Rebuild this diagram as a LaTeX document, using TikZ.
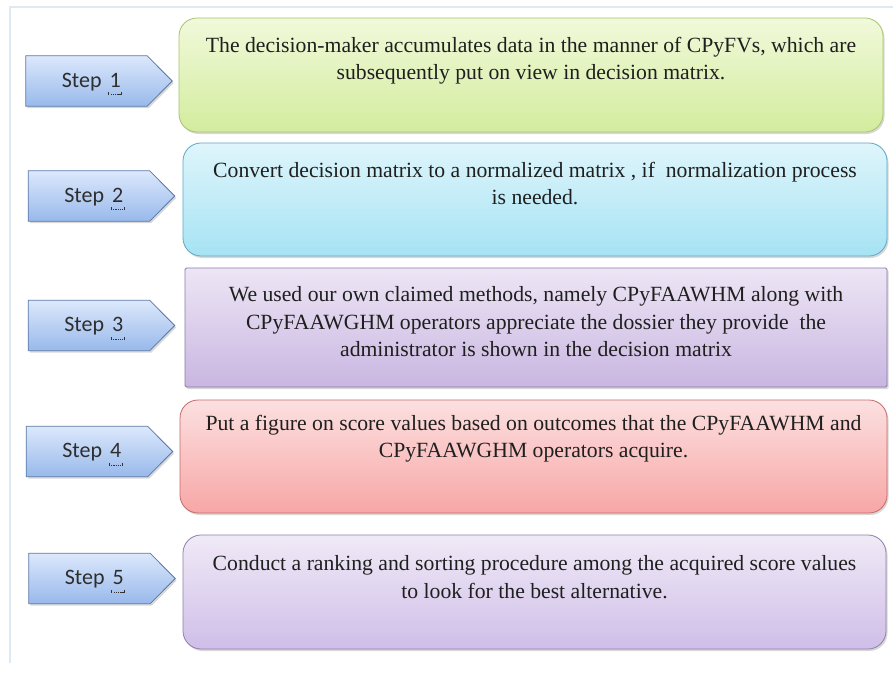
\documentclass[tikz,border=0pt]{standalone}
\usepackage{fontspec}
\setmainfont{Liberation Serif}
\newfontfamily\stepfont{Carlito}
\usetikzlibrary{shadows}
\definecolor{framecol}{HTML}{DDE9F3}
\definecolor{gT}{HTML}{F1F9DA}\definecolor{gB}{HTML}{D3EC9E}\definecolor{gD}{HTML}{A6C46E}
\definecolor{cT}{HTML}{DFF5FB}\definecolor{cB}{HTML}{A6E3F4}\definecolor{cD}{HTML}{5EA8C6}
\definecolor{pT}{HTML}{EDE6F5}\definecolor{pB}{HTML}{C9B6E1}\definecolor{pD}{HTML}{8A7BA3}
\definecolor{rT}{HTML}{FCE0E0}\definecolor{rB}{HTML}{F8A6A6}\definecolor{rD}{HTML}{C46A6A}
\definecolor{qT}{HTML}{F0EAF7}\definecolor{qB}{HTML}{CFBEE8}\definecolor{qD}{HTML}{8E80A8}
\definecolor{sT}{HTML}{DCE8FC}\definecolor{sB}{HTML}{98B9EB}\definecolor{sD}{HTML}{5A78A6}
\newcommand\stepdig[1]{\setbox0\hbox{#1}\vtop{\offinterlineskip\copy0\kern5pt\moveleft1.5pt\hbox to\dimexpr\wd0+3pt\relax{\color{black!80}\vrule height 3pt width .8pt\leaders\hbox to 2.2pt{\hss\vrule height .8pt width 1.3pt\hss}\hfil\vrule height 3pt width .8pt}}}
\begin{document}
\begin{tikzpicture}[x=1pt,y=-1pt,
  box/.style={line width=0.8pt, rounded corners=18pt,
    drop shadow={shadow xshift=1.5pt, shadow yshift=-2pt, opacity=0.3}},
  txt/.style={anchor=north, align=center, inner sep=0pt, text=black!88,
    font=\fontsize{21.7}{27.5}\selectfont},
  stepbody/.style={minimum width=121pt, minimum height=50pt, inner sep=0pt},
  steplabel/.style={anchor=base, inner sep=0pt, font=\stepfont\fontsize{22}{24}\selectfont, text=black!82},
  stepshape/.style={draw=sD, line width=0.8pt, top color=sT, bottom color=sB,
    drop shadow={shadow xshift=1.5pt, shadow yshift=-2pt, opacity=0.3}}
]
\useasboundingbox (0,0) rectangle (893,673);
\fill[white] (0,0) rectangle (893,673);
\draw[framecol, line width=1.5pt] (10,663) -- (10,7) -- (893,7);

% boxes
\node[box, draw=gD, top color=gT, bottom color=gB, minimum width=704pt, minimum height=114pt] (b1) at (531,75) {};
\node[box, draw=cD, top color=cT, bottom color=cB, minimum width=704pt, minimum height=113pt] (b2) at (535,199.5) {};
\node[box, draw=pD, top color=pT, bottom color=pB, minimum width=702pt, minimum height=119pt, rounded corners=1.5pt] (b3) at (536,327.5) {};
\node[box, draw=rD, top color=rT, bottom color=rB, minimum width=707pt, minimum height=113pt] (b4) at (533.5,456.5) {};
\node[box, draw=qD, top color=qT, bottom color=qB, minimum width=703pt, minimum height=114pt] (b5) at (534.5,592) {};

\node[txt] (t1) at ([yshift=-19pt]b1.north) {The decision-maker accumulates data in the manner of CPyFVs, which are\\subsequently put on view in decision matrix.};
\node[txt] (t2) at ([yshift=-19pt]b2.north) {Convert decision matrix to a normalized matrix , if\ \ normalization process\\is needed.};
\node[txt] (t3) at ([yshift=-19pt]b3.north) {We used our own claimed methods, namely CPyFAAWHM along with\\CPyFAAWGHM operators appreciate the dossier they provide\ \ the\\administrator is shown in the decision matrix};
\node[txt] (t4) at ([yshift=-15pt]b4.north) {Put a figure on score values based on outcomes that the CPyFAAWHM and\\CPyFAAWGHM operators acquire.};
\node[txt] (t5) at ([yshift=-21pt]b5.north) {Conduct a ranking and sorting procedure among the acquired score values\\to look for the best alternative.};

% steps
\node[stepbody] (s1) at (86.5,81) {};
\node[stepbody] (s2) at (89,196) {};
\node[stepbody] (s3) at (89,325.5) {};
\node[stepbody] (s4) at (87,451.5) {};
\node[stepbody] (s5) at (89.5,578.5) {};
\foreach \s in {s1,s2,s3,s4,s5}{
  \path[stepshape] (\s.north west) -- (\s.north east) -- ([xshift=25pt]\s.east) -- (\s.south east) -- (\s.south west) -- cycle;
}
\node[steplabel] (l1) at ([xshift=5.5pt,yshift=-6pt]s1.center) {Step\kern8pt\stepdig{1}};
\node[steplabel] (l2) at ([xshift=5.5pt,yshift=-6pt]s2.center) {Step\kern8pt\stepdig{2}};
\node[steplabel] (l3) at ([xshift=5.5pt,yshift=-6pt]s3.center) {Step\kern8pt\stepdig{3}};
\node[steplabel] (l4) at ([xshift=5.5pt,yshift=-6pt]s4.center) {Step\kern8pt\stepdig{4}};
\node[steplabel] (l5) at ([xshift=5.5pt,yshift=-6pt]s5.center) {Step\kern8pt\stepdig{5}};
\end{tikzpicture}
\end{document}
